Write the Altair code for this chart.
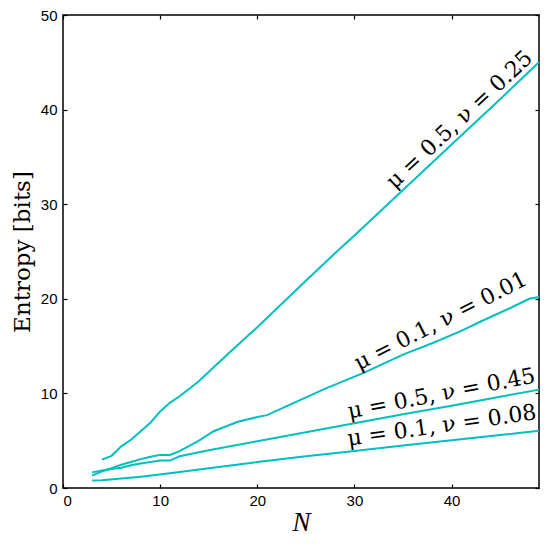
import altair as alt
import pandas as pd

# Series: mu=0.5, nu=0.25
N_a = [4, 5, 6, 7, 8, 9, 10, 11, 12, 13, 14, 17, 20, 25, 28.5, 30, 35, 40, 45, 49]
H_a = [3.0, 3.4, 4.4, 5.1, 6.0, 6.9, 8.1, 9.0, 9.7, 10.5, 11.3, 14.2, 17.0, 21.9, 25.3, 26.7, 31.5, 36.3, 41.1, 45.0]

# Series: mu=0.1, nu=0.01
N_b = [3, 4, 5, 6, 7, 8, 9, 10, 11, 12, 13, 14, 15.5, 18, 20, 21, 24, 27, 31, 35, 38, 41, 43, 46, 48, 49]
H_b = [1.3, 1.75, 2.1, 2.45, 2.75, 3.05, 3.3, 3.5, 3.5, 3.9, 4.45, 5.0, 6.0, 7.0, 7.5, 7.7, 9.1, 10.5, 12.2, 14.1, 15.3, 16.6, 17.6, 19.0, 20.0, 20.2]

# Series: mu=0.5, nu=0.45
N_c = [3, 4, 5, 6, 7, 8, 9, 10, 11, 12, 15, 20, 25, 30, 35, 40, 45, 49]
H_c = [1.65, 1.85, 2.0, 2.15, 2.4, 2.6, 2.75, 2.9, 2.9, 3.35, 4.0, 4.95, 5.9, 6.85, 7.8, 8.7, 9.65, 10.4]

# Series: mu=0.1, nu=0.08
N_d = [3, 4, 6, 8, 11, 14, 20, 25, 30, 35, 40, 45, 49]
H_d = [0.8, 0.82, 1.0, 1.2, 1.55, 1.95, 2.75, 3.35, 3.9, 4.5, 5.05, 5.6, 6.05]

labels = ["μ = 0.5, ν = 0.25", "μ = 0.1, ν = 0.01", "μ = 0.5, ν = 0.45", "μ = 0.1, ν = 0.08"]
label_N = [41.3, 39.2, 39.1, 39.1]
label_H = [38.4, 17.0, 9.26, 5.88]
label_angle = [317, 333, 349, 352]

x_ticks = [0, 10, 20, 30, 40]
y_ticks = [0, 10, 20, 30, 40, 50]

rows = []
for name, ns, hs in [("a", N_a, H_a), ("b", N_b, H_b), ("c", N_c, H_c), ("d", N_d, H_d)]:
    for n, h in zip(ns, hs):
        rows.append({"N": n, "H": h, "series": name})
df = pd.DataFrame(rows)
lab = pd.DataFrame({"N": label_N, "H": label_H, "label": labels, "angle": label_angle})

xscale = alt.Scale(domain=[0, 49], nice=False, zero=False)
yscale = alt.Scale(domain=[0, 50], nice=False)

common = dict(domain=False, grid=False, ticks=True, tickSize=4, tickWidth=1.2,
              tickColor="black", offset=-4)

lines = alt.Chart(df).mark_line(color="#00bfbf", strokeWidth=2).encode(
    x=alt.X("N:Q", scale=xscale, axis=alt.Axis(
        orient="bottom", values=x_ticks, labelPadding=5, labelFont="Liberation Sans",
        labelFontSize=15, labelColor="black", title="N", titleFont="Liberation Serif",
        titleFontStyle="italic", titleFontWeight="normal", titleFontSize=27,
        titleColor="black", titlePadding=1, **common)),
    y=alt.Y("H:Q", scale=yscale, axis=alt.Axis(
        orient="left", values=y_ticks, labelPadding=6, labelFont="Liberation Sans",
        labelFontSize=15, labelColor="black", title="Entropy [bits]",
        titleFont="DejaVu Serif", titleFontWeight="normal", titleFontSize=23,
        titleColor="black", titlePadding=6, **common)),
    detail="series:N",
)

texts = alt.Chart(lab).mark_text(
    font="DejaVu Serif", fontSize=22, align="center", baseline="alphabetic", color="black"
).encode(
    x=alt.X("N:Q", scale=xscale, axis=alt.Axis(orient="top", values=x_ticks, labels=False,
                                               title="", **common)),
    y=alt.Y("H:Q", scale=yscale, axis=alt.Axis(orient="right", values=y_ticks, labels=False,
                                               title="", **common)),
    text="label:N",
    angle=alt.Angle("angle:Q", scale=None),
)

chart = alt.layer(lines, texts).resolve_axis(x="independent", y="independent").properties(
    width=476, height=473,
    autosize=alt.AutoSizeParams(type="none"),
    padding={"left": 55, "top": 7, "right": 3, "bottom": 50},
    background="white",
).configure_view(stroke="black", strokeWidth=1.5)

chart.save("out.html", embed_options={"renderer": "svg", "actions": False})
